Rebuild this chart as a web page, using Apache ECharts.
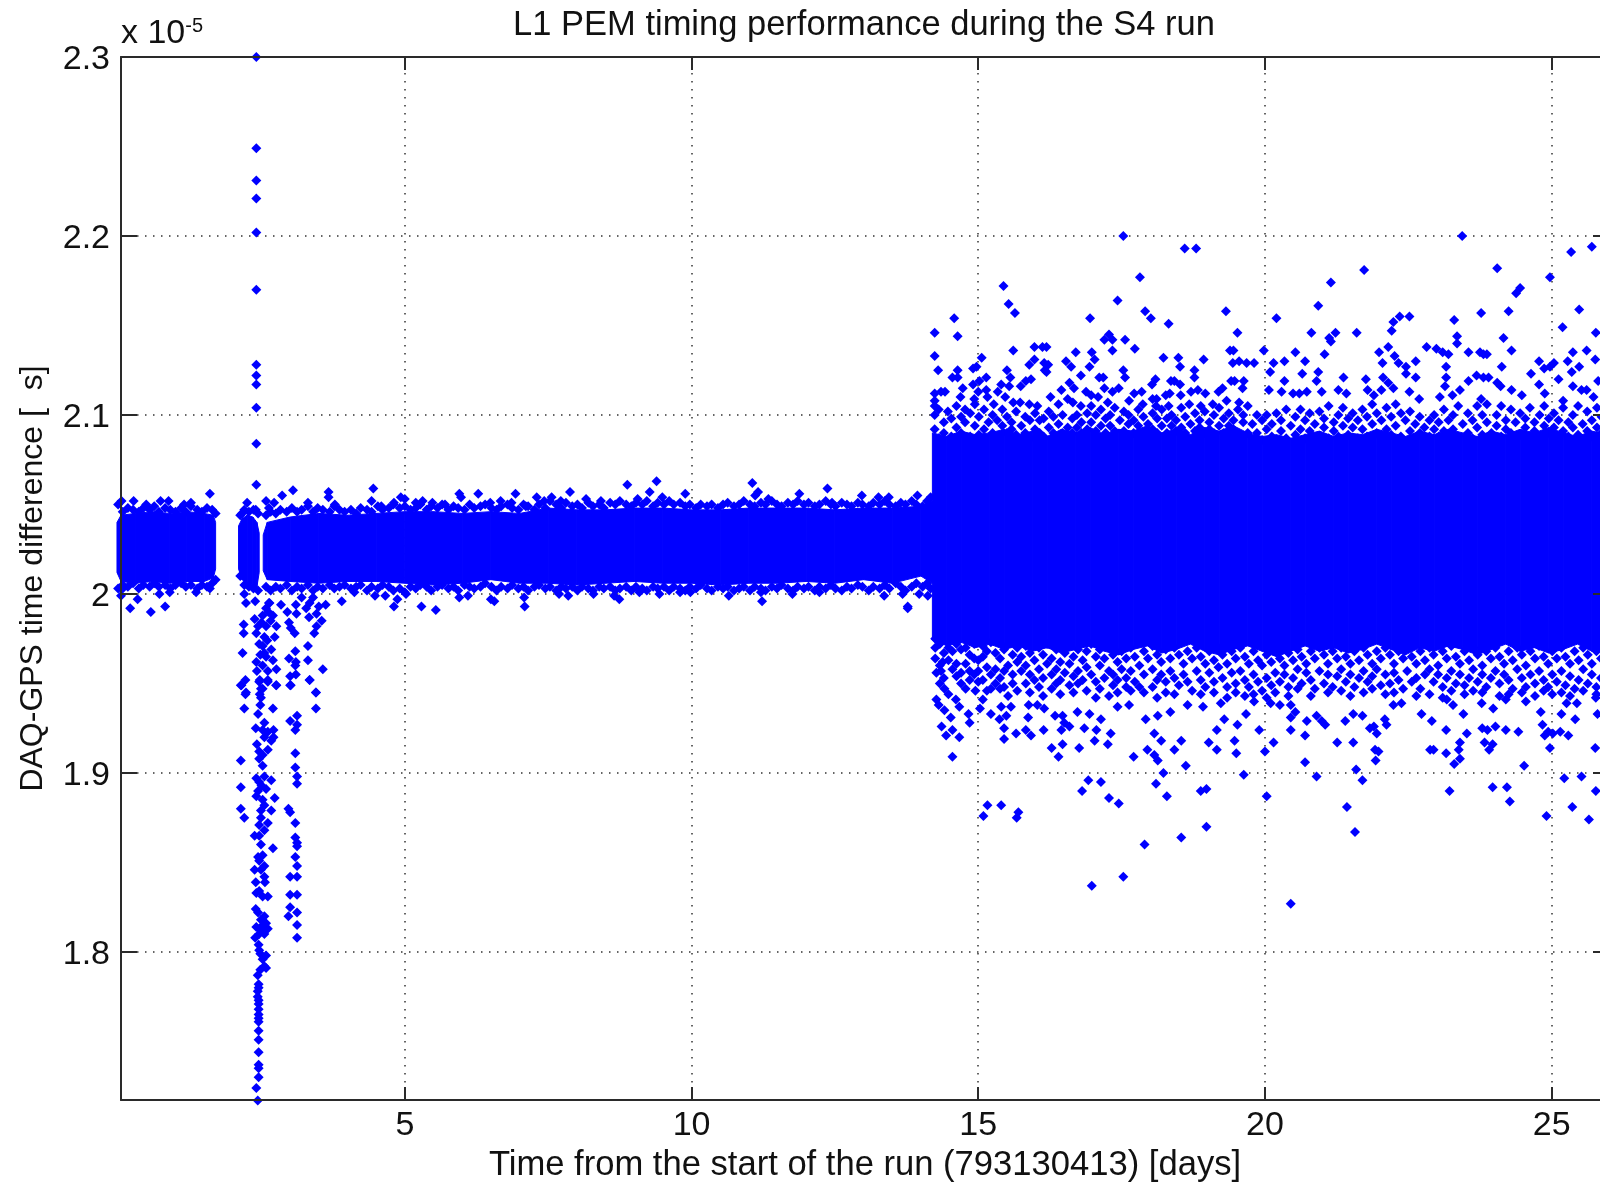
<!DOCTYPE html>
<html><head><meta charset="utf-8">
<style>html,body{margin:0;padding:0;background:#fff}#c{width:1600px;height:1184px;filter:blur(0.45px)}</style>
<script src="https://cdn.jsdelivr.net/npm/echarts@6/dist/echarts.min.js"></script>
</head><body><div id="c"></div>
<script>
const titleText='L1 PEM timing performance during the S4 run';
const xLabel='Time from the start of the run (793130413) [days]';
const yLabel='DAQ-GPS time difference [\u00a0\u00a0s]';
const xTicks=[5,10,15,20,25];
const yTicks=[1.8,1.9,2,2.1,2.2,2.3];
// solid core of the band: [day, low, high], values in units of 1e-5 s
const coreA=[[-0.02,2.012,2.04],[0.05,2.007,2.044],[0.3,2.006,2.045],[0.6,2.007,2.046],[0.9,2.006,2.045],[1.2,2.007,2.046],[1.5,2.007,2.045],[1.66,2.009,2.044],[1.7,2.014,2.04]];
const coreB=[[2.1,2.014,2.038],[2.16,2.008,2.042],[2.25,2.006,2.044],[2.35,2.005,2.043],[2.42,2.004,2.04],[2.46,2.012,2.034]];
const coreC=[[2.53,2.013,2.033],[2.6,2.008,2.04],[3,2.007,2.043],[3.5,2.006,2.045],[4,2.007,2.044],[4.5,2.007,2.045],[5,2.006,2.046],[5.5,2.005,2.046],[6,2.006,2.045],[6.5,2.008,2.046],[7,2.006,2.045],[7.5,2.006,2.048],[8,2.005,2.047],[8.5,2.006,2.047],[9,2.007,2.048],[9.5,2.006,2.048],[10,2.006,2.047],[10.5,2.005,2.047],[11,2.006,2.048],[11.5,2.006,2.048],[12,2.007,2.048],[12.5,2.006,2.047],[13,2.008,2.048],[13.5,2.006,2.048],[14,2.01,2.049],[14.2,2.006,2.052]];
const coreD=[[14.2,1.975,2.09],[14.45,1.971,2.088],[14.7,1.973,2.091],[14.95,1.97,2.089],[15.2,1.972,2.09],[15.45,1.969,2.092],[15.7,1.971,2.089],[15.95,1.968,2.091],[16.2,1.97,2.088],[16.45,1.967,2.092],[16.7,1.969,2.09],[16.95,1.971,2.093],[17.2,1.968,2.089],[17.45,1.966,2.092],[17.7,1.969,2.091],[17.95,1.971,2.094],[18.2,1.967,2.09],[18.45,1.969,2.092],[18.7,1.972,2.089],[18.95,1.968,2.093],[19.2,1.966,2.091],[19.45,1.969,2.094],[19.7,1.971,2.09],[19.95,1.968,2.088],[20.2,1.965,2.089],[20.45,1.968,2.087],[20.7,1.971,2.089],[20.95,1.968,2.091],[21.2,1.97,2.088],[21.45,1.967,2.09],[21.7,1.969,2.089],[21.95,1.972,2.092],[22.2,1.969,2.09],[22.45,1.966,2.088],[22.7,1.97,2.091],[22.95,1.968,2.089],[23.2,1.971,2.092],[23.45,1.969,2.09],[23.7,1.966,2.088],[23.95,1.969,2.091],[24.2,1.972,2.089],[24.45,1.968,2.092],[24.7,1.97,2.09],[24.95,1.967,2.093],[25.2,1.969,2.09],[25.45,1.972,2.088],[25.7,1.968,2.091],[26,1.969,2.089]];
// rim of the narrow band
const rimDays=[0.0,0.08,0.17,0.26,0.36,0.44,0.55,0.63,0.71,0.82,0.91,1.0,1.1,1.18,1.27,1.38,1.46,1.55,1.64,1.7,2.13,2.2,2.28,2.36,2.44,2.58,2.66,2.75,2.83,2.94,3.03,3.12,3.2,3.31,3.4,3.48,3.57,3.69,3.77,3.86,3.95,4.06,4.15,4.23,4.34,4.42,4.53,4.61,4.72,4.8,4.91,5.0,5.1,5.19,5.27,5.38,5.46,5.57,5.65,5.76,5.85,5.93,6.04,6.13,6.21,6.32,6.4,6.51,6.6,6.68,6.79,6.87,6.98,7.07,7.15,7.26,7.34,7.45,7.53,7.64,7.73,7.81,7.92,8.01,8.09,8.2,8.28,8.39,8.47,8.58,8.67,8.75,8.86,8.95,9.03,9.14,9.22,9.33,9.41,9.52,9.61,9.69,9.8,9.89,9.97,10.08,10.16,10.27,10.35,10.46,10.55,10.63,10.74,10.83,10.91,11.02,11.1,11.21,11.29,11.4,11.49,11.57,11.68,11.77,11.85,11.96,12.04,12.15,12.23,12.34,12.43,12.51,12.62,12.71,12.79,12.9,12.98,13.09,13.17,13.28,13.37,13.45,13.56,13.65,13.73,13.84,13.92,14.03,14.11,14.17];
const rimTop=[2.05,2.046,2.048,2.047,2.046,2.048,2.047,2.049,2.046,2.048,2.047,2.046,2.048,2.046,2.049,2.047,2.046,2.048,2.047,2.045,2.044,2.047,2.046,2.047,2.045,2.044,2.046,2.045,2.047,2.046,2.048,2.046,2.047,2.049,2.046,2.048,2.047,2.046,2.049,2.047,2.046,2.047,2.045,2.048,2.047,2.046,2.049,2.047,2.048,2.05,2.048,2.049,2.047,2.048,2.05,2.047,2.049,2.048,2.05,2.047,2.049,2.048,2.047,2.05,2.048,2.049,2.05,2.048,2.047,2.049,2.05,2.048,2.047,2.05,2.049,2.047,2.05,2.048,2.052,2.05,2.048,2.051,2.049,2.05,2.048,2.051,2.049,2.05,2.048,2.051,2.05,2.052,2.05,2.049,2.051,2.05,2.052,2.049,2.051,2.05,2.052,2.05,2.051,2.049,2.05,2.048,2.05,2.049,2.05,2.048,2.05,2.051,2.049,2.05,2.052,2.05,2.049,2.051,2.05,2.052,2.05,2.049,2.051,2.05,2.052,2.05,2.051,2.049,2.05,2.052,2.05,2.049,2.051,2.05,2.049,2.051,2.05,2.049,2.051,2.05,2.052,2.05,2.049,2.051,2.05,2.052,2.05,2.049,2.052,2.054,2.056,2.06];
const rimBot=[2.003,2.005,2.004,2.006,2.003,2.005,2.004,2.006,2.004,2.005,2.003,2.005,2.006,2.004,2.005,2.003,2.005,2.004,2.006,2.008,2.01,2.005,2.004,2.003,2.002,2.004,2.002,2.004,2.003,2.005,2.002,2.004,2.003,2.005,2.002,2.004,2.003,2.005,2.003,2.004,2.005,2.003,2.004,2.005,2.002,2.004,2.003,2.005,2.004,2.002,2.003,2.001,2.004,2.003,2.005,2.004,2.002,2.004,2.005,2.003,2.004,2.002,2.005,2.004,2.003,2.004,2.006,2.004,2.002,2.004,2.003,2.005,2.003,2.004,2.002,2.004,2.005,2.003,2.004,2.002,2.004,2.003,2.004,2.002,2.004,2.003,2.002,2.004,2.003,2.004,2.002,2.003,2.004,2.002,2.004,2.003,2.002,2.004,2.003,2.004,2.002,2.004,2.003,2.002,2.004,2.003,2.005,2.003,2.002,2.004,2.003,2.004,2.002,2.003,2.004,2.002,2.004,2.003,2.002,2.004,2.003,2.005,2.003,2.002,2.004,2.003,2.004,2.002,2.004,2.003,2.005,2.003,2.002,2.004,2.003,2.005,2.004,2.002,2.004,2.003,2.005,2.003,2.006,2.004,2.002,2.004,2.006,2.004,2.006,2.003,2.002,2.0];
// separate points around the narrow band: [day, value]
const narrowOutliers=[[1.6,2.056],[0.27,2.052],[0.06,2.052],[0.74,2.052],[0.88,2.052],[0.49,2.05],[1.15,2.05],[1.27,2.051],[0.21,1.992],[0.57,1.99],[0.82,1.993],[0.05,1.999],[0.72,2.0],[0.9,2.001],[1.36,2.001],[1.6,2.003],[0.34,1.997],[0.08,2.003],[2.25,2.051],[2.16,2.045],[2.4,2.047],[2.58,2.052],[2.72,2.051],[2.86,2.055],[3.05,2.058],[2.2,2.0],[2.23,1.995],[2.39,1.996],[2.63,2.048],[3.67,2.057],[3.67,2.054],[3.31,2.051],[3.78,2.05],[4.45,2.059],[4.42,2.052],[4.59,2.049],[4.81,2.051],[4.93,2.054],[5.0,2.053],[5.19,2.051],[5.31,2.052],[5.48,2.051],[5.7,2.05],[5.95,2.056],[5.98,2.054],[6.28,2.056],[6.49,2.051],[6.67,2.052],[6.86,2.051],[6.93,2.056],[7.11,2.049],[7.3,2.054],[7.43,2.052],[7.56,2.054],[7.72,2.052],[7.88,2.057],[8.16,2.053],[8.42,2.052],[8.88,2.061],[9.39,2.063],[9.27,2.057],[9.89,2.056],[11.06,2.062],[11.16,2.057],[11.11,2.055],[11.34,2.053],[11.88,2.056],[12.37,2.059],[12.97,2.055],[13.26,2.054],[13.44,2.054],[13.94,2.055],[12.45,2.051],[9.06,2.053],[9.49,2.054],[3.9,1.996],[4.81,1.993],[4.87,1.997],[5.29,1.993],[5.54,1.991],[4.48,1.999],[4.66,1.999],[5.02,2.0],[5.95,1.998],[6.1,1.999],[6.5,1.997],[6.56,1.996],[7.08,1.998],[7.09,1.993],[7.69,2.0],[7.85,1.999],[8.29,2.0],[4.12,2.001],[3.62,1.994],[8.74,1.997],[8.65,1.999],[9.09,2.001],[9.44,2.0],[9.8,2.001],[9.98,2.001],[10.65,1.999],[11.23,1.996],[11.21,2.001],[11.76,2.0],[12.23,2.001],[13.36,1.999],[13.68,2.0],[13.97,2.0],[13.77,1.992],[14.12,1.999]];
// the column of outliers near day 2.4, and its neighbours
const towerTop=[[2.41,2.3],[2.41,2.249],[2.41,2.231],[2.41,2.221],[2.41,2.202],[2.41,2.17],[2.41,2.128],[2.41,2.122],[2.41,2.117],[2.41,2.104],[2.41,2.084],[2.41,2.061]];
const towerMain=[[2.435,1.717],[2.41,1.724],[2.45,1.73],[2.45,1.735],[2.45,1.737],[2.45,1.744],[2.45,1.751],[2.45,1.756],[2.45,1.761],[2.45,1.763],[2.45,1.765],[2.45,1.768],[2.45,1.771],[2.45,1.773],[2.435,1.775],[2.435,1.778],[2.45,1.78],[2.45,1.782],[2.435,1.787],[2.48,1.79],[2.55,1.792],[2.58,1.791],[2.52,1.796],[2.58,1.798],[2.48,1.799],[2.45,1.804],[2.46,1.801],[2.39,1.808],[2.46,1.81],[2.55,1.81],[2.61,1.813],[2.49,1.814],[2.41,1.814],[2.49,1.818],[2.44,1.822],[2.4,1.824],[2.55,1.82],[2.5,1.812],[2.58,1.816],[2.52,1.831],[2.61,1.831],[2.41,1.833],[2.46,1.834],[2.4,1.839],[2.56,1.839],[2.55,1.842],[2.38,1.846],[2.49,1.846],[2.55,1.848],[2.46,1.851],[2.44,1.853],[2.7,1.858],[2.52,1.854],[2.49,1.86],[2.38,1.865],[2.46,1.865],[2.55,1.868],[2.46,1.871],[2.61,1.872],[2.49,1.875],[2.67,1.879],[2.49,1.879],[2.55,1.882],[2.73,1.886],[2.41,1.887],[2.52,1.885],[2.58,1.891],[2.67,1.896],[2.41,1.897],[2.55,1.898],[2.46,1.895],[2.44,1.89],[2.5,1.893],[2.52,1.904],[2.46,1.908],[2.52,1.91],[2.46,1.912],[2.61,1.913],[2.42,1.916],[2.67,1.918],[2.71,1.92],[2.55,1.92],[2.61,1.923],[2.71,1.924],[2.52,1.924],[2.4,1.925],[2.55,1.928],[2.44,1.933],[2.48,1.938],[2.7,1.936],[2.49,1.942],[2.49,1.947],[2.46,1.951],[2.61,1.952],[2.755,1.949],[2.14,1.907],[2.14,1.892],[2.14,1.88],[2.2,1.875],[2.2,1.936],[2.23,1.945],[2.14,1.949],[2.64,1.995],[2.38,1.986],[2.52,1.988],[2.7,1.988],[2.44,1.982],[2.58,1.982],[2.76,1.982],[2.41,1.978],[2.55,1.976],[2.73,1.976],[2.52,1.971],[2.67,1.969],[2.58,1.965],[2.41,1.962],[2.7,1.963],[2.52,1.96],[2.76,1.958],[2.42,1.957],[2.61,1.957],[2.47,1.952],[2.61,1.951],[2.76,1.949],[2.52,1.947],[2.47,1.944],[2.62,1.99],[2.58,1.992],[2.66,1.985],[2.5,1.984],[2.46,1.972],[2.6,1.974],[2.55,1.967],[2.48,1.966],[2.17,1.967],[2.19,1.983],[2.19,1.978],[2.15,1.949],[2.22,1.952],[2.22,1.944]];
const towerSide=[[3.09,1.911],[3.09,1.903],[3.12,1.898],[3.12,1.894],[2.97,1.88],[3.0,1.878],[3.09,1.872],[3.09,1.864],[3.12,1.861],[3.12,1.859],[3.09,1.853],[3.12,1.848],[3.0,1.842],[3.12,1.842],[3.0,1.832],[3.12,1.832],[3.0,1.825],[3.12,1.822],[2.97,1.82],[3.12,1.815],[3.12,1.808],[3.12,1.932],[3.0,1.929],[3.12,1.927],[3.09,1.924],[3.45,1.945],[3.45,1.936],[3.0,1.949],[3.34,1.952],[2.63,1.995],[2.84,1.994],[3.1,1.994],[2.95,1.99],[3.11,1.989],[3.33,1.987],[3.46,1.989],[3.55,1.985],[3.46,1.982],[3.42,1.978],[3.08,1.978],[2.98,1.984],[3.01,1.981],[3.28,1.992],[3.34,1.995],[3.31,1.971],[3.09,1.968],[2.98,1.964],[3.1,1.962],[3.31,1.963],[3.09,1.96],[3.57,1.958],[3.0,1.954],[3.1,1.955],[3.34,1.952],[3.01,1.949],[3.45,1.945],[3.2,1.998],[3.4,1.998],[3.5,1.993]];
// separate points above the wide band
const wideUpper=[[14.24,2.146],[14.58,2.154],[14.64,2.144],[14.24,2.133],[14.3,2.125],[14.55,2.121],[14.64,2.125],[14.64,2.121],[14.91,2.126],[14.97,2.127],[15.06,2.132],[15.44,2.172],[15.53,2.162],[15.64,2.157],[15.61,2.136],[15.98,2.138],[16.12,2.138],[16.19,2.138],[15.98,2.131],[15.89,2.128],[16.15,2.129],[16.22,2.128],[16.16,2.125],[16.19,2.124],[15.5,2.125],[15.56,2.121],[15.14,2.121],[15.02,2.119],[14.91,2.117],[15.92,2.12],[15.83,2.119],[15.74,2.116],[14.73,2.115],[14.24,2.112],[14.35,2.113],[14.42,2.113],[14.24,2.108],[14.24,2.105],[14.69,2.11],[15.0,2.113],[14.93,2.109],[15.14,2.114],[15.16,2.11],[15.4,2.117],[15.34,2.113],[15.54,2.116],[15.47,2.11],[15.27,2.106],[15.61,2.107],[15.73,2.107],[15.89,2.106],[16.03,2.105],[16.26,2.11],[16.45,2.114],[16.53,2.13],[16.7,2.135],[16.62,2.127],[16.79,2.122],[16.59,2.118],[16.67,2.115],[16.94,2.127],[16.98,2.135],[17.03,2.131],[16.95,2.154],[17.11,2.121],[17.18,2.121],[17.2,2.142],[17.28,2.145],[17.34,2.142],[17.34,2.136],[17.43,2.164],[17.53,2.2],[17.56,2.142],[17.73,2.137],[17.82,2.177],[17.91,2.158],[18.01,2.154],[17.53,2.125],[17.56,2.121],[17.45,2.115],[17.34,2.113],[17.2,2.115],[16.88,2.113],[16.97,2.111],[17.09,2.11],[16.56,2.109],[16.65,2.107],[16.79,2.105],[17.26,2.107],[17.72,2.112],[17.85,2.113],[17.63,2.108],[17.87,2.106],[18.04,2.109],[18.11,2.109],[18.09,2.12],[18.03,2.117],[18.32,2.151],[18.23,2.132],[18.49,2.132],[18.52,2.127],[18.6,2.193],[18.8,2.193],[18.77,2.125],[18.77,2.121],[18.93,2.131],[18.36,2.119],[18.42,2.119],[18.52,2.117],[18.34,2.112],[18.27,2.111],[18.53,2.111],[18.71,2.113],[18.83,2.114],[18.96,2.112],[18.68,2.106],[18.32,2.105],[18.1,2.105],[18.88,2.105],[19.09,2.106],[19.19,2.113],[19.26,2.115],[19.33,2.108],[19.32,2.158],[19.52,2.146],[19.39,2.136],[19.45,2.136],[19.44,2.129],[19.55,2.13],[19.68,2.129],[19.41,2.119],[19.47,2.119],[19.63,2.119],[19.61,2.115],[19.55,2.107],[19.81,2.129],[20.15,2.129],[20.09,2.124],[19.98,2.136],[20.34,2.13],[20.34,2.119],[20.2,2.154],[20.53,2.135],[20.7,2.13],[20.65,2.123],[20.93,2.161],[20.81,2.146],[21.15,2.174],[21.12,2.143],[21.15,2.141],[21.23,2.146],[21.73,2.181],[21.6,2.146],[21.04,2.134],[20.93,2.124],[20.9,2.119],[21.37,2.121],[21.76,2.12],[20.07,2.114],[20.29,2.113],[20.49,2.112],[20.6,2.112],[20.73,2.113],[20.99,2.113],[21.28,2.114],[21.42,2.112],[21.79,2.114],[22.03,2.114],[22.24,2.115],[21.9,2.111],[22.06,2.121],[22.15,2.118],[21.99,2.135],[22.05,2.129],[22.15,2.138],[22.21,2.147],[22.24,2.152],[22.35,2.155],[22.52,2.155],[22.26,2.133],[22.33,2.129],[22.46,2.127],[22.46,2.123],[22.63,2.13],[22.63,2.121],[22.52,2.113],[22.69,2.109],[22.82,2.138],[22.99,2.137],[23.1,2.135],[23.2,2.134],[23.16,2.127],[23.16,2.121],[23.14,2.116],[23.05,2.11],[23.27,2.111],[23.4,2.114],[23.3,2.153],[23.35,2.144],[23.35,2.14],[23.44,2.2],[23.55,2.135],[23.55,2.119],[23.69,2.122],[23.81,2.121],[23.9,2.121],[23.75,2.135],[23.81,2.134],[23.87,2.134],[24.05,2.182],[23.77,2.157],[24.25,2.158],[24.16,2.143],[24.3,2.136],[24.13,2.127],[24.45,2.171],[24.38,2.168],[24.05,2.118],[24.11,2.116],[24.3,2.114],[24.48,2.111],[23.77,2.109],[24.64,2.123],[24.78,2.13],[24.78,2.117],[24.87,2.126],[24.97,2.177],[24.97,2.127],[25.04,2.129],[25.19,2.149],[25.34,2.191],[25.7,2.194],[25.48,2.159],[25.77,2.146],[25.61,2.136],[25.37,2.135],[25.28,2.13],[25.35,2.124],[25.48,2.127],[25.76,2.131],[25.12,2.12],[25.37,2.116],[25.52,2.114],[25.61,2.114],[25.81,2.119],[24.88,2.112],[25.2,2.108],[25.73,2.11]];
// separate points below the wide band
const wideLower=[[13.77,1.993],[14.26,1.975],[14.38,1.962],[14.27,1.956],[14.35,1.957],[14.41,1.947],[14.27,1.941],[14.31,1.938],[14.41,1.935],[14.61,1.941],[14.67,1.937],[14.83,1.933],[14.52,1.931],[14.85,1.928],[14.36,1.926],[14.55,1.924],[14.44,1.921],[14.67,1.92],[14.55,1.909],[14.95,1.946],[15.03,1.936],[15.08,1.941],[15.22,1.933],[15.4,1.937],[15.57,1.937],[15.37,1.93],[15.49,1.932],[15.45,1.925],[15.45,1.919],[15.66,1.922],[15.83,1.924],[15.92,1.921],[15.87,1.931],[16.14,1.924],[15.88,1.938],[16.03,1.938],[16.15,1.936],[16.34,1.932],[16.47,1.932],[16.5,1.928],[16.59,1.926],[16.45,1.924],[16.85,1.925],[16.73,1.934],[16.94,1.933],[17.14,1.93],[17.06,1.924],[17.31,1.922],[17.03,1.918],[17.26,1.916],[16.47,1.916],[16.28,1.914],[16.76,1.914],[16.4,1.909],[17.71,1.909],[17.95,1.913],[18.07,1.922],[18.19,1.918],[18.07,1.91],[18.13,1.907],[18.54,1.918],[18.42,1.913],[18.62,1.904],[18.23,1.9],[17.92,1.93],[18.13,1.932],[18.35,1.934],[17.63,1.938],[17.43,1.937],[18.65,1.938],[18.92,1.937],[19.23,1.939],[19.29,1.93],[19.67,1.933],[19.52,1.927],[19.16,1.924],[19.02,1.917],[19.16,1.913],[19.47,1.918],[19.5,1.911],[19.63,1.899],[16.92,1.896],[17.14,1.895],[16.81,1.89],[17.28,1.886],[17.45,1.883],[18.1,1.894],[18.29,1.887],[18.88,1.89],[18.98,1.891],[18.98,1.87],[18.54,1.864],[17.9,1.86],[17.53,1.842],[16.98,1.837],[15.16,1.882],[15.4,1.882],[15.09,1.876],[15.7,1.878],[15.67,1.875],[20.45,1.827],[21.57,1.867],[21.43,1.881],[20.03,1.887],[20.0,1.912],[20.15,1.917],[19.9,1.924],[20.45,1.924],[20.45,1.931],[20.53,1.934],[20.7,1.906],[20.7,1.921],[20.73,1.929],[20.9,1.932],[20.99,1.929],[21.05,1.927],[20.9,1.898],[21.26,1.917],[21.54,1.917],[21.4,1.929],[21.54,1.933],[21.7,1.932],[21.59,1.902],[21.7,1.896],[21.92,1.913],[21.98,1.912],[21.93,1.907],[21.83,1.925],[21.9,1.926],[21.95,1.922],[22.09,1.93],[22.12,1.927],[22.91,1.929],[23.16,1.924],[22.88,1.913],[22.94,1.913],[23.16,1.911],[23.4,1.917],[23.38,1.913],[23.4,1.908],[23.3,1.905],[23.52,1.922],[23.22,1.89],[23.46,1.933],[23.79,1.925],[23.88,1.924],[24.02,1.926],[23.83,1.917],[23.97,1.916],[23.91,1.913],[24.2,1.924],[24.42,1.923],[24.52,1.904],[23.97,1.892],[24.22,1.892],[24.27,1.884],[24.91,1.876],[24.81,1.934],[24.84,1.927],[24.94,1.923],[24.88,1.921],[25.02,1.922],[25.15,1.923],[25.29,1.921],[24.97,1.914],[25.22,1.897],[25.52,1.898],[25.77,1.89],[25.36,1.881],[25.65,1.874],[25.76,1.914],[25.41,1.93],[25.17,1.933],[25.8,1.933],[23.98,1.936],[23.28,1.938],[22.73,1.933],[19.81,1.94],[20.1,1.939],[20.26,1.938],[20.45,1.938],[22.24,1.938],[22.38,1.939],[23.17,1.941],[23.78,1.939],[24.2,1.941],[24.55,1.94],[25.26,1.939],[25.44,1.939],[25.77,1.942]];
// speckled zone over the core: [day, value, value, ...]
const zoneUpper=[[14.24,2.092,2.1],[14.31,2.087,2.103],[14.4,2.09,2.096],[14.47,2.102],[14.53,2.088,2.098],[14.62,2.093,2.105],[14.7,2.09,2.099],[14.77,2.096,2.103],[14.86,2.088,2.101],[14.94,2.094,2.106],[15.01,2.089,2.099],[15.1,2.092,2.103],[15.18,2.096],[15.25,2.09,2.1],[15.33,2.088,2.097],[15.42,2.094,2.103],[15.5,2.09,2.099],[15.58,2.096,2.092],[15.66,2.089,2.102],[15.75,2.094],[15.82,2.09,2.099],[15.9,2.097,2.087],[15.99,2.092,2.101],[16.07,2.09,2.097],[16.14,2.098,2.088],[16.23,2.093,2.102],[16.31,2.09,2.099],[16.4,2.095,2.106],[16.47,2.09,2.1],[16.56,2.093],[16.64,2.09,2.098],[16.72,2.1,2.093],[16.8,2.09,2.096],[16.9,2.101,2.092],[16.97,2.096,2.105],[17.05,2.091,2.1],[17.14,2.094,2.103],[17.22,2.09,2.098],[17.3,2.1,2.094],[17.38,2.091,2.104],[17.47,2.097],[17.54,2.091,2.102],[17.62,2.095,2.1],[17.71,2.09,2.097],[17.79,2.103,2.094],[17.88,2.09,2.099],[17.96,2.095],[18.04,2.092,2.101],[18.12,2.098,2.09],[18.2,2.094,2.103],[18.29,2.09,2.098],[18.37,2.1,2.094],[18.45,2.091,2.097],[18.54,2.104,2.093],[18.61,2.09,2.099],[18.7,2.095],[18.78,2.091,2.101],[18.86,2.097,2.093],[18.95,2.09,2.102],[19.03,2.096,2.092],[19.11,2.1,2.09],[19.2,2.094,2.104],[19.28,2.09,2.098],[19.37,2.101,2.094],[19.45,2.092,2.097],[19.53,2.103,2.09],[19.62,2.096,2.1],[19.7,2.09,2.105],[19.78,2.095],[19.86,2.09,2.1],[19.95,2.086,2.097],[20.03,2.1,2.092],[20.12,2.088,2.095],[20.2,2.101],[20.28,2.091,2.097],[20.37,2.087,2.103],[20.45,2.094],[20.53,2.089,2.099],[20.62,2.092,2.103],[20.7,2.087,2.097],[20.78,2.101,2.091],[20.87,2.095],[20.95,2.088,2.102],[21.03,2.093,2.098],[21.11,2.087,2.105],[21.2,2.096,2.091],[21.28,2.1,2.088],[21.36,2.094,2.104],[21.45,2.089,2.098],[21.53,2.101,2.093],[21.62,2.087,2.097],[21.7,2.103,2.092],[21.78,2.088,2.099],[21.87,2.095,2.106],[21.95,2.09,2.101],[22.03,2.097,2.087],[22.12,2.092,2.104],[22.2,2.089,2.099],[22.28,2.094,2.106],[22.37,2.088,2.101],[22.45,2.097],[22.53,2.091,2.102],[22.62,2.087,2.095],[22.7,2.099,2.09],[22.78,2.093],[22.87,2.088,2.097],[22.95,2.092,2.1],[23.03,2.088,2.096],[23.12,2.103,2.091],[23.2,2.097,2.088],[23.28,2.092,2.1],[23.37,2.088,2.105],[23.45,2.095],[23.54,2.09,2.101],[23.62,2.087,2.097],[23.7,2.093,2.105],[23.79,2.089,2.1],[23.87,2.096,2.106],[23.95,2.09],[24.04,2.094,2.1],[24.12,2.088,2.105],[24.2,2.097,2.092],[24.29,2.103,2.09],[24.37,2.096],[24.45,2.089,2.101],[24.54,2.093,2.098],[24.62,2.088,2.104],[24.7,2.096,2.091],[24.79,2.1,2.088],[24.87,2.094,2.105],[24.95,2.09,2.098],[25.04,2.101,2.093],[25.12,2.088,2.097],[25.2,2.104,2.091],[25.29,2.096,2.088],[25.37,2.1,2.093],[25.46,2.089,2.105],[25.54,2.095],[25.62,2.091,2.102],[25.7,2.088,2.097],[25.79,2.104,2.093],[25.87,2.09,2.099]];
// speckled zone under the core
const zoneLower=[[14.25,1.975,1.97,1.964],[14.33,1.972,1.96,1.95],[14.4,1.967,1.953],[14.48,1.97,1.963,1.944],[14.55,1.968,1.958],[14.62,1.972,1.961,1.954],[14.7,1.969,1.956,1.95],[14.78,1.97,1.961,1.947],[14.85,1.966,1.957,1.952],[14.93,1.972,1.964,1.955],[15.0,1.963,1.957,1.951],[15.08,1.971,1.965,1.952],[15.15,1.968,1.959,1.946],[15.22,1.973,1.955,1.947],[15.3,1.967,1.958,1.95],[15.38,1.964,1.953,1.947],[15.45,1.969,1.957,1.948],[15.52,1.972,1.96,1.943],[15.6,1.966,1.955,1.95],[15.68,1.97,1.962,1.946],[15.75,1.965,1.957],[15.83,1.971,1.96,1.95],[15.9,1.967,1.955,1.945],[15.98,1.963,1.952],[16.06,1.97,1.958,1.948],[16.13,1.966,1.953,1.943],[16.2,1.972,1.961],[16.28,1.964,1.955,1.947],[16.36,1.969,1.958,1.95],[16.43,1.962,1.952,1.944],[16.51,1.967,1.956],[16.59,1.971,1.961,1.949],[16.66,1.965,1.954,1.945],[16.74,1.969,1.957,1.95],[16.82,1.963,1.952],[16.89,1.968,1.959,1.946],[16.97,1.972,1.955],[17.05,1.965,1.951,1.942],[17.12,1.969,1.96,1.947],[17.2,1.964,1.953],[17.28,1.97,1.957,1.943],[17.35,1.966,1.949,1.955],[17.43,1.962,1.952,1.945],[17.5,1.968,1.958],[17.58,1.964,1.953,1.948],[17.66,1.97,1.957,1.946],[17.73,1.965,1.951],[17.81,1.96,1.948],[17.89,1.968,1.955,1.945],[17.96,1.964],[18.04,1.971,1.958,1.948],[18.12,1.966,1.952,1.942],[18.19,1.962,1.955],[18.27,1.969,1.945,1.951],[18.35,1.964,1.957],[18.42,1.97,1.953,1.944],[18.5,1.966,1.949],[18.58,1.961,1.955],[18.65,1.968,1.951],[18.73,1.964,1.946],[18.81,1.97,1.957],[18.88,1.965,1.952,1.944],[18.96,1.961,1.948],[19.03,1.968,1.956],[19.11,1.963,1.951,1.945],[19.19,1.97,1.959],[19.26,1.966,1.953],[19.34,1.961,1.948,1.942],[19.42,1.968,1.956],[19.49,1.964,1.95,1.945],[19.57,1.97,1.957],[19.65,1.965,1.952,1.943],[19.72,1.961,1.948],[19.8,1.968,1.955,1.944],[19.88,1.963,1.951],[19.95,1.96,1.946],[20.03,1.966,1.953,1.942],[20.11,1.962,1.949],[20.18,1.968,1.956,1.945],[20.26,1.964,1.951],[20.34,1.96,1.955],[20.41,1.967,1.948,1.943],[20.49,1.963,1.953],[20.57,1.969,1.958,1.947],[20.64,1.965,1.95],[20.72,1.961,1.956],[20.8,1.968,1.952,1.943],[20.87,1.964,1.947],[20.95,1.97,1.957],[21.03,1.966,1.95],[21.1,1.961,1.955,1.945],[21.18,1.968,1.948],[21.26,1.964,1.954],[21.33,1.97,1.958,1.946],[21.41,1.965,1.951],[21.49,1.961,1.955,1.943],[21.56,1.968,1.948],[21.64,1.963,1.953],[21.72,1.97,1.957,1.945],[21.79,1.966,1.951],[21.87,1.961,1.954,1.947],[21.95,1.968,1.958],[22.02,1.964,1.949],[22.1,1.97,1.955,1.944],[22.18,1.966,1.95],[22.25,1.961,1.956,1.945],[22.33,1.968,1.952],[22.41,1.964,1.947],[22.48,1.97,1.957],[22.56,1.965,1.951],[22.64,1.961,1.953,1.943],[22.71,1.968,1.947],[22.79,1.963,1.955],[22.87,1.97,1.958,1.944],[22.94,1.966,1.951],[23.02,1.96,1.955],[23.1,1.968,1.948,1.942],[23.17,1.964,1.953],[23.25,1.971,1.957,1.946],[23.33,1.965,1.95],[23.4,1.961,1.955],[23.48,1.968,1.949,1.944],[23.56,1.963,1.953],[23.63,1.97,1.958,1.946],[23.71,1.966,1.951],[23.79,1.96,1.955,1.945],[23.86,1.968,1.948],[23.94,1.964,1.953],[24.02,1.97,1.957],[24.09,1.965,1.95,1.943],[24.17,1.961,1.955],[24.25,1.968,1.952,1.944],[24.32,1.963,1.947],[24.4,1.97,1.958],[24.48,1.966,1.953,1.945],[24.55,1.96,1.948],[24.63,1.968,1.955],[24.71,1.964,1.95,1.943],[24.78,1.971,1.957],[24.86,1.965,1.952,1.946],[24.94,1.961,1.948],[25.01,1.968,1.955,1.944],[25.09,1.964,1.951],[25.17,1.97,1.957,1.945],[25.24,1.965,1.949],[25.32,1.961,1.954,1.943],[25.4,1.968,1.947],[25.47,1.963,1.952],[25.55,1.97,1.958,1.946],[25.63,1.966,1.95],[25.7,1.961,1.955],[25.78,1.968,1.948,1.944],[25.86,1.964,1.953]];

const xMin=0.05,xMax=26,yMin=1.7173,yMax=2.3;
const BLUE='#0000ff',INK='#2a2a2a';
const FONT='"Liberation Sans",Arial,sans-serif';

function expand(table){return table.flatMap(r=>r.slice(1).map(v=>[r[0],v]));}
const rim=rimDays.flatMap((d,i)=>[[d,rimTop[i]],[d,rimBot[i]]]);
const points=[].concat(rim,narrowOutliers,towerTop,towerMain,towerSide,wideUpper,wideLower,expand(zoneUpper),expand(zoneLower));

function coreSeries(rows){
  return {type:'custom',coordinateSystem:'cartesian2d',xAxisIndex:0,yAxisIndex:0,silent:true,z:2,clip:false,
    data:rows.slice(0,-1),encode:{x:0,y:[1,2]},
    renderItem(params,api){
      const a=rows[params.dataIndex],b=rows[params.dataIndex+1];
      return {type:'polygon',shape:{points:[api.coord([a[0],a[2]]),api.coord([b[0],b[2]]),api.coord([b[0],b[1]]),api.coord([a[0],a[1]])]},
        style:{fill:BLUE,stroke:BLUE,lineWidth:1}};
    }};
}
const tickLine={lineStyle:{color:INK,width:2}};
function xAx(pos,extra){return Object.assign({type:'value',position:pos,min:xMin,max:xMax,z:5,
  axisLine:{show:true,onZero:false,lineStyle:{color:INK,width:2}},
  axisTick:Object.assign({show:true,inside:true,length:13,customValues:xTicks},tickLine),
  axisLabel:{show:false},splitLine:{show:false}},extra);}
function yAx(pos,extra){return Object.assign({type:'value',position:pos,min:yMin,max:yMax,z:5,
  axisLine:{show:true,onZero:false,lineStyle:{color:INK,width:2}},
  axisTick:Object.assign({show:true,inside:true,length:16,customValues:yTicks},tickLine),
  axisLabel:{show:false},splitLine:{show:false}},extra);}
const dots={show:true,lineStyle:{color:'#333',width:1.5,type:[1.5,6.5]}};

const chart=echarts.init(document.getElementById('c'),null,{renderer:'canvas'});
chart.setOption({
  animation:false,backgroundColor:'#fff',
  textStyle:{fontFamily:FONT,color:'#111'},
  title:[
    {text:titleText,left:859,top:3,textAlign:'center',textStyle:{fontFamily:FONT,fontWeight:'normal',fontSize:34.5,color:'#111'}},
    {text:'x 10{s|-5}',left:116,top:11,textStyle:{fontFamily:FONT,fontWeight:'normal',fontSize:34,color:'#111',
      rich:{s:{fontFamily:FONT,fontSize:20,color:'#111',verticalAlign:'top',lineHeight:36}}}}
  ],
  grid:{left:121,top:57,width:1488,height:1043,containLabel:false,outerBoundsMode:'none'},
  xAxis:[
    xAx('bottom',{name:xLabel,nameLocation:'middle',nameGap:47,
      nameTextStyle:{fontFamily:FONT,fontSize:34.6,color:'#111'},
      axisLabel:{show:true,customValues:xTicks,margin:9,fontFamily:FONT,fontSize:34,color:'#111'}}),
    xAx('top',{}),
    {type:'value',position:'bottom',min:xMin,max:xMax,z:0,axisLine:{show:false},axisTick:{show:false,customValues:xTicks},axisLabel:{show:false},splitLine:dots}
  ],
  yAxis:[
    yAx('left',{name:yLabel,nameLocation:'middle',nameGap:72,
      nameTextStyle:{fontFamily:FONT,fontSize:32,color:'#111'},
      axisLabel:{show:true,customValues:yTicks,margin:11,formatter:v=>'{a|'+v+'}',
        rich:{a:{fontFamily:FONT,fontSize:34,color:'#111',padding:[5,0,0,0]}}}}),
    yAx('right',{}),
    {type:'value',position:'left',min:yMin,max:yMax,z:0,axisLine:{show:false},axisTick:{show:false,customValues:yTicks},axisLabel:{show:false},splitLine:dots}
  ],
  series:[coreSeries(coreA),coreSeries(coreB),coreSeries(coreC),coreSeries(coreD),
    {type:'scatter',xAxisIndex:0,yAxisIndex:0,clip:false,z:3,symbol:'diamond',symbolSize:10,silent:true,
     itemStyle:{color:BLUE,opacity:1},data:points}]
});
</script></body></html>
